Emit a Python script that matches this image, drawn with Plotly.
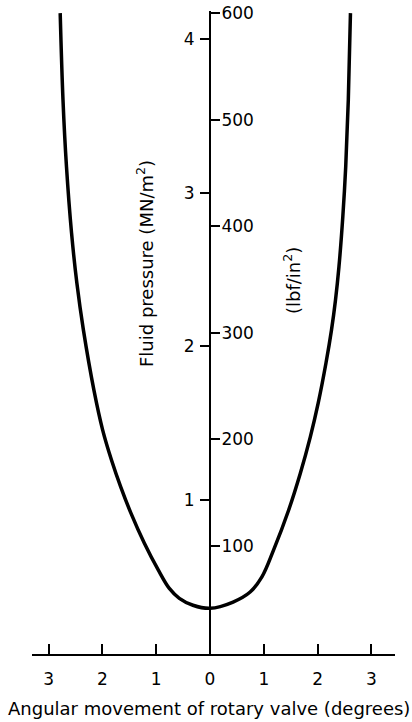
import plotly.graph_objects as go

# Angular movement (degrees, negative = left side) and fluid pressure (MN/m^2)
angle_deg = [-2.785, -2.733, -2.668, -2.574, -2.475, -2.353, -2.158, -1.995, -1.830,
             -1.660, -1.470, -1.220, -0.960, -0.760, -0.570, -0.317, 0.0,
             0.429, 0.746, 0.965, 1.181, 1.461, 1.678, 1.865, 2.011, 2.156, 2.258,
             2.333, 2.397, 2.469, 2.523, 2.571, 2.611]
pressure_mn = [4.167, 3.603, 3.169, 2.738, 2.412, 2.106, 1.716, 1.456, 1.260,
               1.087, 0.916, 0.720, 0.545, 0.428, 0.362, 0.317, 0.297,
               0.338, 0.403, 0.501, 0.675, 0.935, 1.174, 1.412, 1.631, 1.892, 2.106,
               2.302, 2.518, 2.844, 3.169, 3.603, 4.167]

x_tickvals = [-3, -2, -1, 0, 1, 2, 3]
x_ticktext = ["3", "2", "1", "0", "1", "2", "3"]
mn_ticks = [1, 2, 3, 4]
psi_ticks = [100, 200, 300, 400, 500, 600]

x_range = [-3.309, 3.439]
y_range = [0, 4.181]
psi_range = [-1.2, 601.9]
axis_pos = (0 - x_range[0]) / (x_range[1] - x_range[0])

FONT = "DejaVu Sans, Arial, sans-serif"

fig = go.Figure()
fig.add_trace(go.Scatter(x=angle_deg, y=pressure_mn, mode="lines",
                         line=dict(color="black", width=3.5, shape="spline", smoothing=1.0),
                         showlegend=False, hoverinfo="skip"))
# invisible trace to activate the lbf/in^2 axis
fig.add_trace(go.Scatter(x=[0], y=[0], yaxis="y2", mode="markers",
                         marker=dict(opacity=0), showlegend=False, hoverinfo="skip"))

fig.update_layout(
    width=412, height=722,
    autosize=False,
    margin=dict(l=32, r=17, t=11, b=68, pad=0),
    paper_bgcolor="white", plot_bgcolor="white",
    font=dict(family=FONT, color="black", size=17),
    xaxis=dict(range=x_range, tickvals=x_tickvals, ticktext=x_ticktext,
               showline=True, linecolor="black", linewidth=2,
               ticks="inside", ticklen=10, tickwidth=2, tickcolor="black",
               showgrid=False, zeroline=False, tickfont=dict(size=17),
               ticklabelstandoff=9, automargin=False, fixedrange=True),
    yaxis=dict(range=y_range, tickvals=mn_ticks, anchor="free", position=axis_pos,
               side="left", showline=True, linecolor="black", linewidth=2,
               ticks="outside", ticklen=9, tickwidth=1.5, tickcolor="black",
               showgrid=False, zeroline=False, tickfont=dict(size=17),
               ticklabelstandoff=2, automargin=False, fixedrange=True),
    yaxis2=dict(range=psi_range, tickvals=psi_ticks, overlaying="y", anchor="free",
                position=axis_pos, side="right", showline=False,
                ticks="outside", ticklen=9, tickwidth=1.5, tickcolor="black",
                showgrid=False, zeroline=False, tickfont=dict(size=17),
                ticklabelstandoff=-2, automargin=False, fixedrange=True),
    annotations=[
        dict(text="Angular movement of rotary valve (degrees)", xref="paper", yref="paper",
             x=0.4876, y=-0.084, xanchor="center", yanchor="middle", showarrow=False,
             font=dict(size=18)),
        dict(text="Fluid pressure (MN/m<sup>2</sup>)", xref="x", yref="paper",
             x=-1.208, y=(654 - 264) / 643, textangle=-90, showarrow=False,
             xanchor="center", yanchor="middle", font=dict(size=18)),
        dict(text="(lbf/in<sup>2</sup>)", xref="x", yref="paper",
             x=1.524, y=(654 - 280) / 643, textangle=-90, showarrow=False,
             xanchor="center", yanchor="middle", font=dict(size=18)),
    ],
)

fig.write_html("out.html", config={"displayModeBar": False},
               post_script="document.body.style.margin='0';")
